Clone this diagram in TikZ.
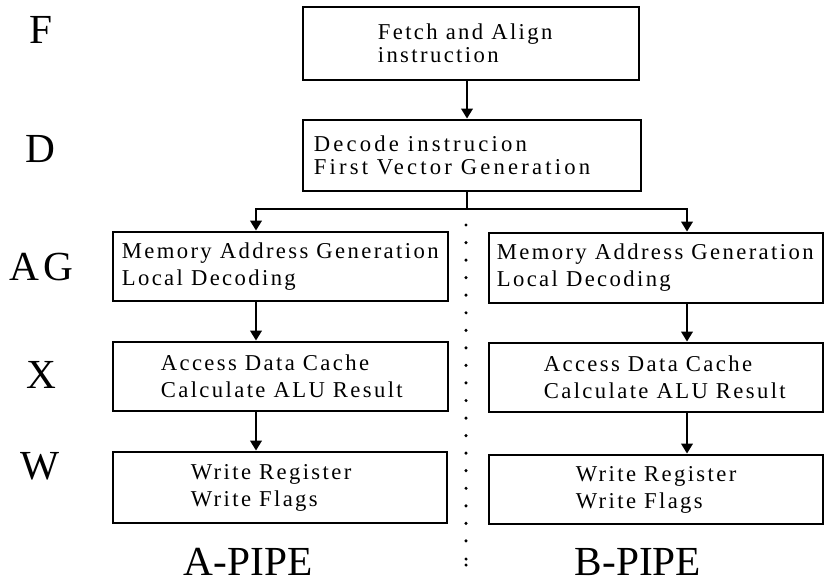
\documentclass[tikz,border=0pt]{standalone}
\usepackage{fontspec}
\setmainfont{Liberation Serif}
\newfontfamily\stagefont[LetterSpace=10.5]{Liberation Serif}
\newfontfamily\stagefontwide[LetterSpace=14]{Liberation Serif}
\usetikzlibrary{arrows.meta,calc}

\begin{document}
\begin{tikzpicture}[x=0.75pt,y=-0.75pt,
  stagebox/.style 2 args={draw, line width=2.1pt, inner sep=0pt,
    minimum width=#1*0.75pt, minimum height=#2*0.75pt},
  stagetext/.style={inner sep=0pt, align=left, anchor=west,
    font={\stagefont\fontsize{17pt}{20.25pt}\selectfont}},
  toptext/.style={stagetext,
    font={\stagefont\fontsize{17pt}{17.25pt}\selectfont}},
  rowlabel/.style={inner sep=0pt, anchor=base, font=\fontsize{31pt}{31pt}\selectfont},
  flow/.style={line width=1.9pt, -{Triangle[length=7.5pt,width=8.5pt]}},
  wire/.style={line width=1.9pt}]
\useasboundingbox (0,0) rectangle (824,583);

% stage labels
\node[rowlabel] (lF) at (40.5,43) {F};
\node[rowlabel] (lD) at (40,162) {D};
\node[rowlabel] (lAG) at (41.5,280) {A\kern3pt G};
\node[rowlabel] (lX) at (41.5,388) {X};
\node[rowlabel] (lW) at (40.5,479) {W};
\node[rowlabel] (lA) at (248,575) {A-PIPE};
\node[rowlabel] (lB) at (638,575) {B-PIPE};

% shared front end
\node[stagebox={336}{73}] (F) at (471,43.5) {};
\node[toptext] (Ft) at ($(F.west)+(76,0)$) {Fetch and Align\\instruction};
\node[stagebox={338}{71}] (D) at (472,155.5) {};
\node[toptext, font={\stagefontwide\fontsize{17pt}{17.25pt}\selectfont}] (Dt)
  at ($(D.west)+(12,0)$) {Decode instrucion\\First Vector Generation};

% A pipe
\node[stagebox={335}{69}] (AGL) at (280.5,266.5) {};
\node[stagetext] (AGLt) at ($(AGL.west)+(10,0)$) {Memory Address Generation\\Local Decoding};
\node[stagebox={335}{69}] (XL) at (280.5,376.5) {};
\node[stagetext] (XLt) at ($(XL.west)+(49,0)$) {Access Data Cache\\Calculate ALU Result};
\node[stagebox={334}{71}] (WL) at (280,487.5) {};
\node[stagetext] (WLt) at ($(WL.west)+(79,0)$) {Write Register\\Write Flags};

% B pipe
\node[stagebox={334}{70}] (AGR) at (656,268) {};
\node[stagetext] (AGRt) at ($(AGR.west)+(9,0)$) {Memory Address Generation\\Local Decoding};
\node[stagebox={334}{69}] (XR) at (656,377.5) {};
\node[stagetext] (XRt) at ($(XR.west)+(56,0)$) {Access Data Cache\\Calculate ALU Result};
\node[stagebox={334}{69}] (WR) at (656,489.5) {};
\node[stagetext] (WRt) at ($(WR.west)+(88,0)$) {Write Register\\Write Flags};

% connectors
\coordinate (split) at (467,209);
\coordinate (laneA) at (256,209);
\coordinate (laneB) at (687,209);
\draw[flow] (F.south -| split) -- (D.north -| split);
\draw[wire] (D.south -| split) -- (split);
\draw[flow] (split) -| (AGL.north -| laneA);
\draw[flow] (split) -| (AGR.north -| laneB);
\draw[flow] (AGL.south -| laneA) -- (XL.north -| laneA);
\draw[flow] (XL.south -| laneA) -- (WL.north -| laneA);
\draw[flow] (AGR.south -| laneB) -- (XR.north -| laneB);
\draw[flow] (XR.south -| laneB) -- (WR.north -| laneB);

% dotted divider between the two pipes
\foreach \k in {0,...,18}
  \fill (466,{225+17.55*\k}) circle[radius=1.3pt];
\fill (466,559) circle[radius=1.3pt];
\fill (466,565) circle[radius=1.3pt];
\end{tikzpicture}
\end{document}
